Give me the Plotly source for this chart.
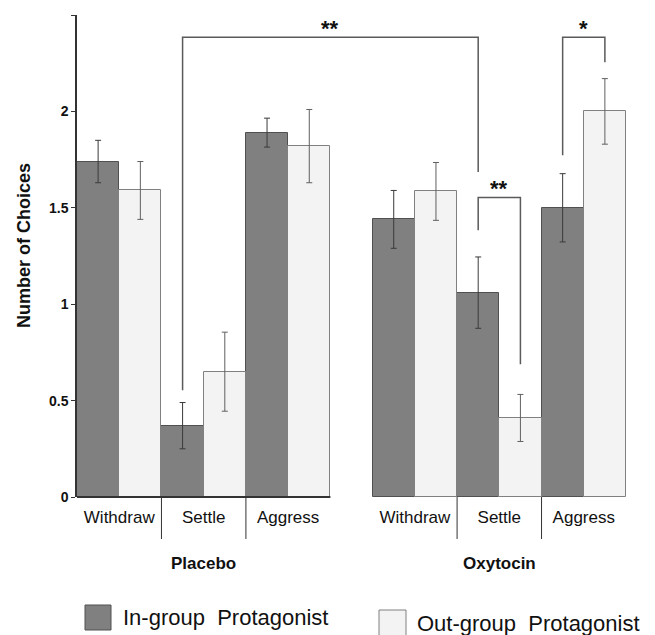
import plotly.graph_objects as go

# ---- data ----
groups = ["Placebo", "Oxytocin"]
categories = ["Withdraw", "Settle", "Aggress"]
series_names = ["In-group Protagonist", "Out-group Protagonist"]

ingroup_vals = [1.74, 0.37, 1.89, 1.44, 1.06, 1.50]
ingroup_err = [0.11, 0.12, 0.075, 0.15, 0.185, 0.177]
outgroup_vals = [1.59, 0.65, 1.82, 1.585, 0.41, 2.00]
outgroup_err = [0.15, 0.205, 0.19, 0.15, 0.122, 0.17]

y_ticks = [0, 0.5, 1, 1.5, 2, 2.5]
y_ticktext = ["0", "0.5", "1", "1.5", "2", "2.5"]

# significance brackets: (group_a, cat_a, series_a, bottom_a, group_b, cat_b, series_b, bottom_b, top, label)
brackets = [
    (0, 1, 0, 0.554, 1, 1, 0, 1.686, 2.385, "**"),
    (1, 1, 0, 1.383, 1, 1, 1, 0.689, 1.554, "**"),
    (1, 2, 0, 1.772, 1, 2, 1, 2.255, 2.385, "*"),
]

# ---- layout helpers ----
GROUP_SPAN = len(categories) * 2 + 1  # 6 bars + 1 bar-width gap


def xpos(g, c, s):
    return g * GROUP_SPAN + c * 2 + s + 0.5


x_in = [xpos(g, c, 0) for g in range(len(groups)) for c in range(len(categories))]
x_out = [xpos(g, c, 1) for g in range(len(groups)) for c in range(len(categories))]
tick_x = [g * GROUP_SPAN + c * 2 + 1 for g in range(len(groups)) for c in range(len(categories))]
tick_text = categories * len(groups)
x_end = len(groups) * GROUP_SPAN - 1

FONT = "Arial, Liberation Sans, sans-serif"

# page body has an 8px default margin; figure is sized to fill the rest of the window
W, H = 647, 627
ML, MR, MT, MB = 69, 29, 7, 138
PW = W - ML - MR
PH = H - MT - MB


def px_x(p):  # window pixel -> paper x
    return (p - 8 - ML) / PW


def px_y(p):  # window pixel -> paper y
    return 1 - (p - 8 - MT) / PH


fig = go.Figure()
fig.add_trace(go.Bar(
    x=x_in, y=ingroup_vals, width=1, name=series_names[0],
    marker=dict(color="#808080", line=dict(color="#505050", width=1)),
    error_y=dict(type="data", array=ingroup_err, color="#3a3a3a", thickness=1, width=3),
    showlegend=False,
))
fig.add_trace(go.Bar(
    x=x_out, y=outgroup_vals, width=1, name=series_names[1],
    marker=dict(color="#f3f3f3", line=dict(color="#808080", width=1)),
    error_y=dict(type="data", array=outgroup_err, color="#606060", thickness=1, width=3),
    showlegend=False,
))

shapes = []
annotations = []

# x baseline under placebo group only
shapes.append(dict(type="line", xref="x", yref="paper", x0=0, x1=GROUP_SPAN - 1, y0=0, y1=0,
                   line=dict(color="#333333", width=2), layer="above"))

# separators between categories
for g in range(len(groups)):
    for c in range(1, len(categories)):
        xv = g * GROUP_SPAN + c * 2
        shapes.append(dict(type="line", xref="x", yref="paper", x0=xv, x1=xv, y0=0, y1=px_y(539),
                           line=dict(color="#333333", width=1)))
    annotations.append(dict(text="<b>" + groups[g] + "</b>", xref="x", yref="paper",
                            x=g * GROUP_SPAN + len(categories), y=px_y(563), showarrow=False,
                            xanchor="center", yanchor="middle",
                            font=dict(family=FONT, size=17, color="#111111")))

# brackets
for ga, ca, sa, ba, gb, cb, sb, bb, top, lab in brackets:
    xa = xpos(ga, ca, sa)
    xb = xpos(gb, cb, sb)
    shapes.append(dict(type="path", xref="x", yref="y",
                       path=f"M {xa},{ba} L {xa},{top} L {xb},{top} L {xb},{bb}",
                       line=dict(color="#5a5a5a", width=1.5)))
    annotations.append(dict(text="<b>" + lab + "</b>", xref="x", yref="y", x=(xa + xb) / 2, y=top,
                            xanchor="center", yanchor="middle", yshift=9, showarrow=False,
                            font=dict(family=FONT, size=22, color="#111111")))

# y title
annotations.append(dict(text="<b>Number of Choices</b>", xref="paper", yref="paper",
                        x=px_x(24), y=px_y(246), textangle=-90, showarrow=False,
                        xanchor="center", yanchor="middle",
                        font=dict(family=FONT, size=18, color="#111111")))

# custom legend
shapes.append(dict(type="rect", xref="paper", yref="paper", x0=px_x(85), x1=px_x(111),
                   y0=px_y(630), y1=px_y(605),
                   fillcolor="#808080", line=dict(color="#505050", width=1)))
annotations.append(dict(text="In-group\u00a0 Protagonist", xref="paper", yref="paper", x=px_x(121),
                        y=px_y(617), xanchor="left", yanchor="middle", showarrow=False,
                        font=dict(family=FONT, size=22, color="#111111")))
shapes.append(dict(type="rect", xref="paper", yref="paper", x0=px_x(379), x1=px_x(406),
                   y0=px_y(637), y1=px_y(610),
                   fillcolor="#f3f3f3", line=dict(color="#808080", width=1)))
annotations.append(dict(text="Out-group\u00a0 Protagonist", xref="paper", yref="paper", x=px_x(415),
                        y=px_y(623), xanchor="left", yanchor="middle", showarrow=False,
                        font=dict(family=FONT, size=22, color="#111111")))

fig.update_layout(
    width=W, height=H,
    margin=dict(l=ML, r=MR, t=MT, b=MB, autoexpand=False),
    paper_bgcolor="white", plot_bgcolor="white",
    barmode="overlay", bargap=0,
    shapes=shapes, annotations=annotations,
    font=dict(family=FONT, color="#111111"),
    xaxis=dict(range=[0, x_end], tickvals=tick_x, ticktext=tick_text, showgrid=False,
               zeroline=False, showline=False, ticks="outside", ticklen=5, tickcolor="rgba(0,0,0,0)",
               automargin=False,
               tickfont=dict(family=FONT, size=17, color="#111111")),
    yaxis=dict(range=[0, 2.5], tickvals=y_ticks, ticktext=["<b>" + t + "</b>" for t in y_ticktext],
               showgrid=False, zeroline=False, showline=True, linecolor="#333333", linewidth=1.5,
               ticks="outside", ticklen=4, tickcolor="#333333", automargin=False,
               tickfont=dict(family=FONT, size=14, color="#111111")),
)

fig.write_html("out.html")
